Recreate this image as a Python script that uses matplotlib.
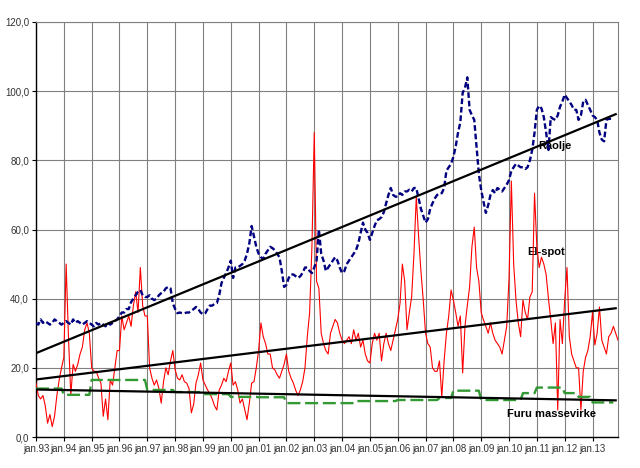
import numpy as np
import matplotlib.pyplot as plt
from matplotlib.ticker import FuncFormatter

plt.rcParams['font.family'] = ['Liberation Sans', 'DejaVu Sans']

# monthly values, jan.93 .. dec.13
el_spot = [
    15.6, 12, 11, 12, 9, 4, 6.5, 3, 6, 12, 16.5, 20,            # 1993
    23, 50, 29, 12, 21, 19, 21, 24, 26, 31, 33, 30,             # 1994
    20, 19, 19, 17, 15.6, 6, 11, 5, 16.5, 15, 20, 25,           # 1995
    25, 35, 31, 33, 35, 32, 38, 42, 36, 49, 38, 35,             # 1996
    35, 20, 17, 15, 16.5, 14, 9.8, 16, 20, 18, 22, 25,          # 1997
    19.5, 17, 16.5, 18, 16, 15.6, 14, 7, 9.5, 15.6, 18, 21.4,   # 1998
    16.5, 15, 13.6, 12.5, 11, 9, 7.8, 13.6, 15, 17, 16, 19,     # 1999
    21.4, 15, 16, 13.6, 9.8, 11, 8, 5, 9.8, 15.6, 16, 20,       # 2000
    25, 33, 29, 27, 24, 24, 20, 19.4, 18, 17, 19, 21,           # 2001
    24, 19, 17, 15.6, 13.5, 12, 13.6, 16, 20, 29, 36, 55,       # 2002
    88, 45, 43, 30, 27, 25, 24, 30, 32, 34, 33, 30,             # 2003
    28, 27, 28, 29, 27, 31, 28, 30, 26, 28, 24, 22,             # 2004
    21.4, 27, 30, 28, 30, 22, 27, 30, 27, 25, 28, 31,           # 2005
    34, 38.7, 50, 45, 31, 36, 40.5, 53, 69.5, 58, 48, 39.6,     # 2006
    30, 27, 26, 20, 19, 19, 22, 11.6, 22, 30, 35, 42.5,         # 2007
    39.6, 36, 32, 35, 18.5, 32, 38, 43.4, 55, 60.7, 49, 45,     # 2008
    36, 33.8, 32, 30, 33, 30, 28, 27, 26, 24, 28, 32,           # 2009
    46, 74, 50, 39.6, 33, 29, 39.6, 36, 34, 40.5, 42, 70.5,     # 2010
    55, 49, 52, 50, 47, 40, 34, 27, 33, 7.8, 34, 27,            # 2011
    39.6, 49, 29, 24, 22, 20, 20, 7.8, 19, 23, 25, 29,          # 2012
    36, 26.6, 30, 37.6, 28, 26, 24, 29, 30, 32, 30, 28,         # 2013
]

raolje = [
    33, 32.5, 34, 33, 33.5, 33, 32.5, 33, 34, 33.5, 33, 32.5,   # 1993
    33, 33.5, 33, 32.5, 34, 33, 33.5, 33, 32.5, 33, 33.5, 33,   # 1994
    32.5, 32, 33, 32.5, 33, 32.5, 32, 33, 32.5, 33, 33.5, 34,   # 1995
    35, 36, 36, 37, 37, 39, 40, 41, 42, 42.5, 41, 40.5,         # 1996
    40.5, 41, 40, 39.6, 40, 41, 41.6, 42, 43, 43.4, 43, 38.7,   # 1997
    37, 35.8, 36, 35.8, 35.8, 36, 36, 36.5, 37, 37.6, 37, 36,   # 1998
    35.5, 35.8, 37, 38, 38, 38.5, 38.7, 41, 44.5, 46, 47.4, 49, # 1999
    51, 46, 49, 49, 49.5, 50, 51, 53, 56, 61, 58, 55,           # 2000
    53, 52, 51.5, 53, 54, 55, 54.6, 54, 53, 52, 48, 43.4,       # 2001
    44, 46, 47, 47, 46.5, 46, 46.5, 47.5, 49, 49, 48, 47.4,     # 2002
    49, 51, 60, 53, 51, 48, 49, 50, 51, 52, 51, 49,             # 2003
    47.4, 48, 50, 51, 52, 53, 54, 56, 59, 62, 60, 59,           # 2004
    57, 59, 61, 62.7, 63, 63.6, 65, 67.6, 70, 72, 70, 69.5,     # 2005
    69.5, 70.5, 70, 71, 71, 71.5, 71, 72, 72, 69, 66, 64,       # 2006
    62, 63, 66, 67.6, 69, 70, 70.5, 70.5, 72, 77, 78, 79,       # 2007
    81, 84, 88, 91, 99.5, 101, 104, 94.6, 93, 91.7, 84, 76,     # 2008
    71.4, 68, 64.8, 67, 70, 71.4, 70.5, 72, 71.5, 71, 72, 73,   # 2009
    74.3, 77, 78, 79, 78.5, 78, 78, 77.5, 78, 80, 83, 88,       # 2010
    94.6, 95.8, 95, 92.5, 88, 83, 92.5, 92, 91.7, 93, 95.5, 97, # 2011
    99, 98, 97, 96, 94.6, 94.6, 91.7, 93, 97, 97.5, 96, 94.6,   # 2012
    93, 92.5, 91.7, 88, 86, 85.5, 91.7, 92, 92,                 # 2013 (to sep)
]

furu = (
    [14.0] * 12 + [12.2] * 12 + [16.5] * 24 +                   # 1993-1996
    [13.6] * 12 + [13.0] * 12 + [12.4] * 12 +                   # 1997-1999
    [11.6] * 12 + [11.5] * 12 + [9.8] * 30 + [10.4] * 18 +      # 2000-2005
    [10.7] * 18 + [11.3] * 6 + [13.4] * 12 +                    # 2006-2008
    [10.7] * 18 + [12.7] * 6 + [14.3] * 12 +                    # 2009-2011
    [12.7] * 6 + [11.6] * 6 + [10.0] * 10                       # 2012-2013
)

tick_labels = ['jan.%02d' % (y % 100) for y in range(1993, 2014)]

fig = plt.figure(figsize=(6.4, 4.68), dpi=100)
ax = fig.add_axes([0.05625, 0.0662, 0.9094, 0.8868])

m_red = np.arange(len(el_spot))
m_blue = np.arange(len(raolje))
m_green = np.arange(len(furu))

ax.plot(m_red, el_spot, color='#ff0000', lw=0.8, zorder=3)
ax.plot(m_green, furu, color='#339933', lw=1.7, ls=(0, (5.5, 2.0)), zorder=3)
ax.plot(m_blue, raolje, color='#000080', lw=1.7, ls=(0, (2.4, 1.2)), zorder=4)

# linear trend lines (like the Excel trendlines)
for m, v in [(m_blue, raolje), (m_red, el_spot), (m_green, furu)]:
    k, b = np.polyfit(m, v, 1)
    xs = np.array([0, 250])
    ax.plot(xs, k * xs + b, color='black', lw=1.6, zorder=5)

ax.text(223.7, 84.4, 'Råolje', fontsize=8, fontweight='bold', ha='center', va='center', zorder=2)
ax.text(219.8, 53.5, 'El-spot', fontsize=8, fontweight='bold', ha='center', va='center', zorder=2)
ax.text(222.4, 6.7, 'Furu massevirke', fontsize=8, fontweight='bold', ha='center', va='center', zorder=6)

ax.set_xlim(0, 251)
ax.set_ylim(0, 120)
ax.set_xticks(range(0, 252, 12))
ax.set_xticklabels(tick_labels)
ax.set_yticks(range(0, 121, 20))
ax.yaxis.set_major_formatter(FuncFormatter(lambda v, p: ('%.1f' % v).replace('.', ',')))
ax.tick_params(direction='out', length=3, width=0.8, labelsize=7, pad=2, colors='black', labelcolor='#333333')
ax.grid(True, color='#808080', lw=0.8)
ax.set_axisbelow(True)
for s in ['top', 'right']:
    ax.spines[s].set_color('#808080')
    ax.spines[s].set_linewidth(0.8)
for s in ['left', 'bottom']:
    ax.spines[s].set_color('black')
    ax.spines[s].set_linewidth(1.0)

fig.savefig('out.png', dpi=100)
